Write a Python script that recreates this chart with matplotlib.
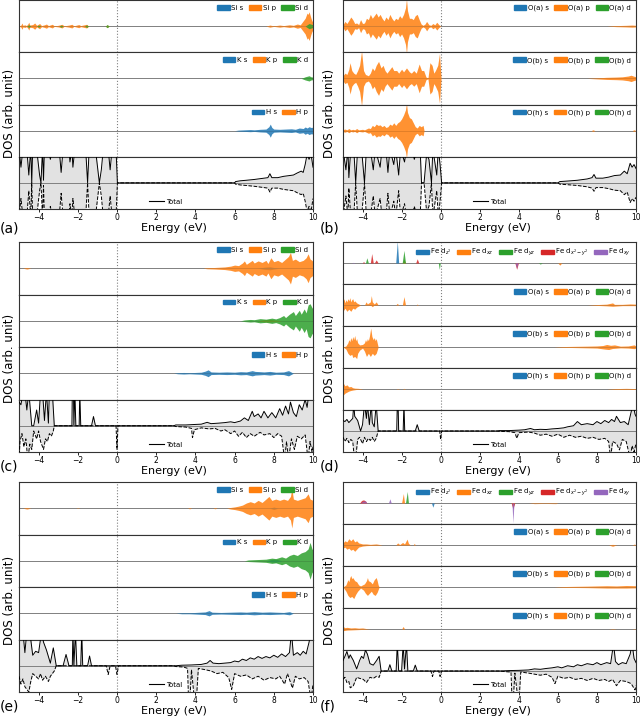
import numpy as np
import matplotlib.pyplot as plt
from matplotlib.patches import Patch
from matplotlib.lines import Line2D

plt.rcParams['font.family'] = ['DejaVu Sans']

xlim = (-5.0, 10.0)
xticks = [-4, -2, 0, 2, 4, 6, 8, 10]
colors = ['tab:blue', 'tab:orange', 'tab:green', 'tab:red', 'tab:purple']

si_labels = ['Si s', 'Si p', 'Si d']
k_labels = ['K s', 'K p', 'K d']
h_labels = ['H s', 'H p']
oa_labels = ['O(a) s', 'O(a) p', 'O(a) d']
ob_labels = ['O(b) s', 'O(b) p', 'O(b) d']
oh_labels = ['O(h) s', 'O(h) p', 'O(h) d']
fe_labels = [r'Fe d$_{z^2}$', r'Fe d$_{xz}$', r'Fe d$_{yz}$', r'Fe d$_{x^2-y^2}$', r'Fe d$_{xy}$']
tags = ['(a)', '(b)', '(c)', '(d)', '(e)', '(f)']

# ---- panel (a): (energy, DOS), DOS in units of half the subplot height
a_si_p = [(-5, 0), (-4.9, .04), (-4.85, .12), (-4.8, .03), (-4.7, .05), (-4.62, .02), (-4.55, .08), (-4.5, .15),
          (-4.45, .04), (-4.3, .06), (-4.2, .12), (-4.1, .03), (-3.95, .1), (-3.85, .02), (-3.7, .05), (-3.6, .08),
          (-3.5, .02), (-3.3, .07), (-3.2, .01), (-3.0, .03), (-2.8, .07), (-2.7, .01), (-2.45, .04), (-2.3, .07),
          (-2.2, .01), (-1.95, .06), (-1.85, .02), (-1.55, .07), (-1.45, 0), (-0.6, 0), (-0.5, .05), (-0.4, 0),
          (7.6, 0), (7.8, .04), (8.0, .01), (8.3, .04), (8.5, .02), (8.8, .05), (9.0, .03), (9.2, .08), (9.35, .05),
          (9.5, .2), (9.6, .3), (9.7, .5), (9.75, .45), (9.8, .55), (9.9, .3), (9.95, .2), (10, .15)]
a_si_d = [(-4.6, 0), (-4.5, .05), (-4.4, 0), (-4.1, 0), (-4.0, .04), (-3.9, 0), (-2.95, 0), (-2.85, .04),
          (-2.75, 0), (-1.65, 0), (-1.55, .05), (-1.45, 0), (-0.6, 0), (-0.5, .06), (-0.4, 0), (9.6, 0),
          (9.8, .1), (10, .05)]
a_k_d = [(9.4, 0), (9.6, .06), (9.7, .08), (9.8, .1), (9.9, .06), (10, .05)]
a_h_s = [(6.0, 0), (6.2, .02), (6.5, .03), (6.8, .04), (7.0, .03), (7.3, .05), (7.6, .06), (7.75, .15),
         (7.82, .25), (7.9, .12), (8.0, .06), (8.3, .05), (8.6, .06), (8.9, .07), (9.1, .05), (9.3, .1),
         (9.5, .08), (9.6, .14), (9.7, .1), (9.8, .15), (9.9, .12), (10, .13)]
a_total = [(-5, 1.3), (-4.9, .6), (-4.8, 1.3), (-4.6, 1.3), (-4.5, .3), (-4.4, 1.3), (-4.35, 0), (-4.3, 1.3),
           (-4.1, 1.3), (-3.95, .3), (-3.88, 0), (-3.8, 1.3), (-3.75, .1), (-3.7, 1.3), (-3.5, 1.3), (-3.4, .9),
           (-3.3, 1.3), (-2.95, 1.3), (-2.85, .4), (-2.75, 1.3), (-2.45, 1.3), (-2.4, .8), (-2.3, 1.3),
           (-2.25, .6), (-2.15, 1.3), (-1.6, 1.3), (-1.5, 0), (-1.42, 1.3), (-1.1, 1.3), (-0.9, 0), (-0.8, .5),
           (-0.7, 1.3), (-0.45, 1.3), (-0.35, .5), (-0.25, 1.3), (-0.05, 1.3), (0.02, 0), (6.0, 0), (6.05, .05),
           (6.3, .08), (6.6, .1), (7.0, .13), (7.4, .17), (7.7, .2), (7.8, .35), (7.9, .2), (8.2, .2), (8.5, .25),
           (8.8, .28), (9.0, .3), (9.2, .38), (9.4, .45), (9.5, .4), (9.6, .7), (9.7, 1.1), (9.8, .9),
           (9.9, 1.1), (10, .6)]

# ---- panel (b)
b_oa_p = [(-5.0, .05), (-4.9, .18), (-4.8, .1), (-4.7, .22), (-4.6, .35), (-4.5, .25), (-4.4, .1), (-4.3, .12),
          (-4.2, .06), (-4.1, .25), (-4.0, .1), (-3.9, .12), (-3.8, .3), (-3.7, .25), (-3.6, .45), (-3.5, .3),
          (-3.4, .4), (-3.3, .5), (-3.2, .35), (-3.1, .45), (-3.0, .3), (-2.9, .2), (-2.8, .35), (-2.7, .25),
          (-2.6, .45), (-2.5, .3), (-2.4, .2), (-2.3, .3), (-2.2, .25), (-2.1, .4), (-2.0, .3), (-1.9, .45),
          (-1.8, .7), (-1.75, 1.05), (-1.7, .6), (-1.6, .3), (-1.5, .3), (-1.4, .25), (-1.3, .4), (-1.2, .45),
          (-1.1, .25), (-1.0, .08), (-0.9, .03), (-0.8, .08), (-0.72, .18), (-0.6, .05), (-0.5, .03), (-0.4, .1),
          (-0.3, .05), (-0.2, .15), (-0.1, .06), (0.0, 0), (8.5, 0), (9.0, .02), (9.5, .03), (9.8, .04), (10, .03)]
b_ob_p = [(-5.0, .1), (-4.9, .2), (-4.8, .15), (-4.7, .35), (-4.64, .6), (-4.55, .3), (-4.45, .2), (-4.35, .15),
          (-4.25, .3), (-4.15, .5), (-4.05, 1.05), (-3.95, .3), (-3.85, .15), (-3.7, .1), (-3.6, .2), (-3.5, .4),
          (-3.4, .3), (-3.3, .5), (-3.18, .65), (-3.05, .4), (-2.95, .5), (-2.85, .3), (-2.75, .2), (-2.6, .35),
          (-2.5, .45), (-2.4, .3), (-2.25, .3), (-2.15, .2), (-2.0, .35), (-1.9, .25), (-1.75, .4), (-1.6, .25),
          (-1.5, .2), (-1.38, .3), (-1.25, .2), (-1.1, .55), (-0.98, .3), (-0.87, .3), (-0.75, .05), (-0.65, .02),
          (-0.55, .6), (-0.44, .5), (-0.35, .2), (-0.27, .3), (-0.15, .5), (-0.06, .95), (0.02, 0), (7.5, 0),
          (8, .02), (8.5, .04), (9, .05), (9.3, .06), (9.6, .09), (9.75, .12), (9.9, .08), (10, .06)]
b_oh_p = [(-5.0, .04), (-4.9, .06), (-4.8, .03), (-4.7, .08), (-4.6, .03), (-4.5, .05), (-4.4, .03), (-4.3, .08),
          (-4.2, .03), (-4.0, .05), (-3.9, .03), (-3.7, .1), (-3.6, .08), (-3.5, .2), (-3.4, .15), (-3.3, .25),
          (-3.2, .2), (-3.1, .22), (-3.0, .15), (-2.9, .2), (-2.8, .12), (-2.7, .15), (-2.6, .25), (-2.5, .2),
          (-2.4, .3), (-2.3, .2), (-2.2, .3), (-2.1, .35), (-2.0, .45), (-1.9, .6), (-1.8, .8), (-1.75, 1.05),
          (-1.7, .7), (-1.6, .5), (-1.5, .45), (-1.4, .3), (-1.3, .15), (-1.2, .1), (-1.1, .2), (-1.0, .15),
          (-0.9, .2), (-0.85, 0), (7.7, 0), (7.8, .03), (7.9, 0), (9.8, 0), (9.9, .03), (10, 0)]
b_total = [(-5, 1.3), (-4.85, .5), (-4.75, 1.3), (-4.7, .2), (-4.6, 1.3), (-4.45, 1.3), (-4.35, 0), (-4.25, 1.3),
           (-4.05, 1.3), (-3.9, 0), (-3.8, 1.3), (-3.6, 1.3), (-3.45, .5), (-3.35, 1.3), (-3.1, .6), (-3.0, 1.3),
           (-2.8, 1.3), (-2.7, .4), (-2.6, 1.3), (-2.4, .7), (-2.3, 1.3), (-2.15, .3), (-2.05, 1.3), (-1.85, .8),
           (-1.75, 1.3), (-1.45, 1.3), (-1.35, .9), (-1.2, 1.3), (-1.05, 1.3), (-0.98, 0), (-0.85, 0),
           (-0.72, 1.1), (-0.6, .9), (-0.47, .0), (-0.4, 1.3), (-0.2, .3), (-0.12, 1.3), (-0.03, .7), (0.05, 0),
           (6.0, 0), (6.1, .05), (6.5, .07), (7, .1), (7.5, .15), (7.75, .2), (7.85, .32), (7.95, .18), (8.3, .18),
           (8.6, .22), (8.9, .28), (9.2, .3), (9.4, .45), (9.55, .35), (9.7, .75), (9.8, .6), (9.9, .7), (10, .55)]

# ---- panel (c)
c_si_p = [(-4.8, 0), (-4.6, .03), (-4.4, 0), (4.4, 0), (4.6, .02), (5, .03), (5.5, .05), (5.8, .08), (6.0, .12),
          (6.2, .1), (6.4, .2), (6.5, .28), (6.6, .15), (6.8, .25), (6.9, .3), (7.0, .2), (7.2, .28), (7.4, .22),
          (7.6, .3), (7.7, .18), (7.85, .4), (8.0, .25), (8.2, .3), (8.4, .22), (8.6, .35), (8.75, .45),
          (8.85, .6), (8.95, .3), (9.1, .35), (9.3, .25), (9.5, .3), (9.65, .4), (9.75, .55), (9.85, .35),
          (9.95, .3), (10, .25)]
c_si_s = [(7.2, 0), (7.5, .04), (7.8, .06), (8.0, .03), (8.3, 0)]
c_k_p = [(7.2, 0), (7.5, .04), (7.8, .05), (8.1, .03), (8.4, 0)]
c_k_d = [(6.3, 0), (6.5, .03), (6.8, .05), (7.0, .04), (7.3, .08), (7.6, .06), (7.9, .1), (8.1, .07), (8.3, .12),
         (8.5, .2), (8.6, .12), (8.8, .25), (9.0, .35), (9.1, .2), (9.3, .4), (9.4, .25), (9.55, .45), (9.65, .3),
         (9.75, .6), (9.85, .65), (9.95, .5), (10, .45)]
c_h_s = [(2.9, 0), (3.1, .02), (3.4, .03), (3.7, .02), (4.0, .03), (4.3, .04), (4.5, .08), (4.65, .13),
         (4.8, .05), (5.2, .04), (5.6, .05), (6.0, .04), (6.3, .06), (6.6, .05), (6.9, .1), (7.05, .07),
         (7.3, .06), (7.5, .05), (7.8, .07), (8.1, .04), (8.5, .05), (8.75, .1), (8.85, .06), (9.0, 0)]
c_total_up = [(-5, .9), (-4.9, .8), (-4.8, 1.3), (-4.7, 1.3), (-4.6, .6), (-4.5, 1.3), (-4.35, 0), (-4.25, 0),
              (-4.1, .6), (-4.0, .1), (-3.9, 1.3), (-3.8, 1.3), (-3.7, .2), (-3.6, 1.3), (-3.5, .1), (-3.45, 1.3),
              (-3.3, 1.3), (-3.2, 0), (-2.3, 0), (-2.28, 1.3), (-2.22, 1.3), (-2.2, 0), (-2.15, 1.3), (-2.1, 0),
              (-1.93, 0), (-1.9, 1.3), (-1.85, 0), (-1.3, 0), (-1.2, .35), (-1.1, 0), (2.9, 0), (3.0, .03),
              (3.5, .03), (4.0, .05), (4.3, .06), (4.6, .13), (4.8, .08), (5.2, .1), (5.5, .12), (5.8, .15),
              (6.0, .12), (6.3, .18), (6.5, .3), (6.7, .2), (6.9, .55), (7.0, .35), (7.2, .45), (7.35, .3),
              (7.5, .55), (7.7, .3), (7.9, .5), (8.1, .3), (8.3, .65), (8.45, .4), (8.6, .75), (8.75, .45),
              (8.85, .9), (9.0, .5), (9.15, .35), (9.3, .8), (9.45, .6), (9.6, 1.0), (9.7, .7), (9.8, 1.3),
              (9.9, 1.3), (10, 1.1)]
c_total_dn = [(-5, -1.3), (-4.95, -.6), (-4.85, -.3), (-4.75, -.8), (-4.65, -.5), (-4.55, -1.3), (-4.45, -.7),
              (-4.35, -.9), (-4.25, -.2), (-4.1, -.5), (-4.0, -.2), (-3.9, -.6), (-3.75, -.9), (-3.65, -.5),
              (-3.55, -.6), (-3.45, -.3), (-3.35, -.4), (-3.25, -.2), (-3.2, 0), (-0.05, 0), (0, -.9), (0.05, 0),
              (2.9, 0), (3.0, -.03), (3.5, -.05), (3.8, -.1), (3.85, -.45), (3.95, -.15), (4.3, -.08),
              (4.7, -.12), (5.0, -.1), (5.3, -.2), (5.5, -.15), (5.8, -.3), (6.0, -.2), (6.2, -.4), (6.4, -.25),
              (6.6, -.45), (6.8, -.3), (7.0, -.4), (7.3, -.25), (7.5, -.35), (7.8, -.3), (8.0, -.45), (8.2, -.3),
              (8.4, -.4), (8.55, -1.3), (8.65, -.6), (8.75, -1.3), (8.9, -.5), (9.05, -.9), (9.2, -.4),
              (9.4, -.5), (9.6, -.35), (9.75, -1.3), (9.85, -.6), (9.95, -1.0), (10, -.8)]

# ---- panel (d)
d_fe_z2_up = [(-2.3, 0), (-2.22, 1.05), (-2.15, 0)]
d_fe_xz_up = [(-1.95, 0), (-1.88, .2), (-1.8, 0)]
d_fe_xz_dn = [(6.0, 0), (6.1, -.1), (6.2, 0)]
d_fe_yz_up = [(-3.85, 0), (-3.78, .25), (-3.7, 0), (-1.97, 0), (-1.88, .6), (-1.8, 0)]
d_fe_yz_dn = [(-0.12, 0), (-0.07, -.3), (-0.02, 0), (5.0, 0), (5.1, -.05), (5.2, 0)]
d_fe_x2y2_up = [(-4.0, 0), (-3.95, .08), (-3.9, 0), (-3.6, 0), (-3.53, .45), (-3.45, 0), (-3.4, 0), (-3.3, .15),
                (-3.2, 0), (-1.28, 0), (-1.2, .2), (-1.12, 0)]
d_fe_x2y2_dn = [(3.8, 0), (3.89, -.3), (3.98, 0)]
d_fe_xy_up = [(-4.55, 0), (-4.47, .03), (-4.4, 0)]
d_fe_xy_dn = [(3.82, 0), (3.89, -.25), (3.95, 0)]
d_oa_up = [(-5, .15), (-4.95, .3), (-4.9, .1), (-4.85, .25), (-4.8, .15), (-4.75, .3), (-4.7, .2), (-4.65, .35),
           (-4.6, .15), (-4.55, .25), (-4.5, .3), (-4.45, .15), (-4.4, .2), (-4.3, .1), (-4.2, .05), (-4.1, 0),
           (-3.9, 0), (-3.82, .15), (-3.75, .05), (-3.6, .15), (-3.55, .45), (-3.5, .15), (-3.4, .05),
           (-3.3, .15), (-3.2, 0), (-2.3, 0), (-2.22, .08), (-2.15, 0), (-1.96, 0), (-1.88, .4), (-1.8, 0),
           (-1.25, 0), (-1.2, .05), (-1.15, 0), (7.5, 0), (8, .02), (8.5, .04), (8.8, .1), (8.9, .03), (9.3, .03),
           (9.7, .05), (10, .04)]
d_oa_dn = [(-5, -.3), (-4.9, -.15), (-4.8, -.3), (-4.7, -.2), (-4.6, -.3), (-4.5, -.15), (-4.4, -.2), (-4.3, -.1),
           (-4.2, -.05), (-4.1, 0), (-3.6, 0), (-3.5, -.08), (-3.4, 0), (7.5, 0), (8, -.02), (8.5, -.04),
           (8.8, -.06), (9.3, -.03), (10, -.03)]
d_ob_up = [(-5, 0), (-4.85, .05), (-4.75, .2), (-4.7, .35), (-4.65, .25), (-4.6, .45), (-4.55, .3), (-4.5, .5),
           (-4.45, .35), (-4.4, .55), (-4.35, .3), (-4.3, .4), (-4.25, .2), (-4.15, .1), (-4.0, .12), (-3.9, .2),
           (-3.85, .35), (-3.8, .25), (-3.75, .4), (-3.7, .3), (-3.65, .5), (-3.58, .9), (-3.52, .5), (-3.45, .35),
           (-3.4, .45), (-3.35, .3), (-3.3, .4), (-3.25, .2), (-3.2, 0), (5.8, 0), (6.2, .02), (6.8, .03),
           (7.5, .04), (8.0, .05), (8.3, .07), (8.5, .12), (8.7, .08), (8.9, .1), (9.2, .04), (9.6, .05),
           (9.9, .1), (10, .05)]
d_ob_dn = [(-5, 0), (-4.85, -.1), (-4.75, -.3), (-4.65, -.4), (-4.55, -.35), (-4.5, -.5), (-4.4, -.45),
           (-4.3, -.55), (-4.25, -.3), (-4.15, -.15), (-4.0, -.05), (-3.9, -.2), (-3.8, -.45), (-3.7, -.3),
           (-3.6, -.45), (-3.5, -.3), (-3.4, -.4), (-3.3, -.3), (-3.2, 0), (5.8, 0), (6.5, -.02), (7.5, -.04),
           (8.0, -.05), (8.4, -.1), (8.6, -.12), (8.8, -.07), (9.2, -.04), (9.6, -.05), (9.9, -.08), (10, -.05)]
d_oh_up = [(-5, .3), (-4.9, .15), (-4.8, .2), (-4.7, .1), (-4.6, .12), (-4.5, .06), (-4.4, .04), (-4.2, .03),
           (-4.0, 0), (-2.3, 0), (-2.2, .02), (-2.1, 0), (-1.95, 0), (-1.88, .03), (-1.8, 0), (8.5, 0), (9, .02),
           (9.5, .03), (10, .02)]
d_oh_dn = [(-5, -.3), (-4.9, -.2), (-4.8, -.15), (-4.7, -.1), (-4.6, -.07), (-4.5, -.05), (-4.3, -.02), (-4.0, 0),
           (8.5, 0), (9, -.02), (9.5, -.02), (10, -.02)]
d_total_up = [(-5, .5), (-4.9, .45), (-4.8, .55), (-4.7, .4), (-4.6, .5), (-4.5, .6), (-4.45, 1.3), (-4.4, .7),
              (-4.25, .5), (-4.1, 0), (-4.0, .3), (-3.9, 1.3), (-3.8, .6), (-3.75, 1.3), (-3.65, .3), (-3.55, 1.3),
              (-3.5, .4), (-3.4, .2), (-3.3, 1.3), (-3.2, 0), (-2.25, 0), (-2.22, 1.3), (-2.18, 1.3), (-2.15, 0),
              (-1.92, 0), (-1.88, 1.3), (-1.84, 0), (-1.3, 0), (-1.2, .3), (-1.1, 0), (2.9, 0), (3.0, .02),
              (3.5, .02), (4.0, .04), (4.3, .06), (4.6, .12), (4.8, .06), (5.1, .08), (5.4, .07), (5.7, .1),
              (6.0, .12), (6.3, .15), (6.5, .2), (6.8, .25), (7.0, .45), (7.2, .3), (7.5, .35), (7.8, .3), (8.0, .45),
              (8.2, .35), (8.4, .5), (8.6, .4), (8.75, .55), (8.9, .45), (9.0, .7), (9.2, .4), (9.4, .45), (9.6, .3),
              (9.75, .9), (9.85, 1.3), (9.95, .8), (10, .7)]
d_total_dn = [(-5, -.3), (-4.9, -.5), (-4.8, -.35), (-4.7, -.55), (-4.6, -.4), (-4.5, -.5), (-4.42, -1.3),
              (-4.35, -1.3), (-4.25, -.4), (-4.15, -.3), (-4.0, -.6), (-3.9, -.3), (-3.8, -.5), (-3.7, -.35),
              (-3.6, -.45), (-3.5, -.3), (-3.4, -.5), (-3.3, -.35), (-3.2, 0), (-0.05, 0), (0, -.4), (0.05, 0),
              (2.9, 0), (3.0, -.02), (3.5, -.03), (3.8, -.08), (3.9, -.35), (4.0, -.08), (4.5, -.05), (4.8, -.1),
              (5.1, -.2), (5.4, -.15), (5.7, -.25), (6.0, -.15), (6.3, -.3), (6.6, -.2), (6.9, -.3), (7.2, -.25),
              (7.5, -.35), (7.8, -.3), (8.1, -.4), (8.4, -.35), (8.6, -.5), (8.7, -1.3), (8.8, -.5), (9.0, -.6),
              (9.15, -.9), (9.3, -.4), (9.5, -.5), (9.7, -1.3), (9.8, -.7), (9.9, -1.0), (10, -.6)]

# ---- panel (e)
e_si_p = [(-4.8, 0), (-4.6, .03), (-4.4, 0), (-2.1, 0), (-2.0, .01), (-1.9, 0), (3.6, 0), (3.7, .02), (3.8, 0),
          (4.9, 0), (5.0, .02), (5.1, 0), (5.6, 0), (5.8, .03), (6.0, .05), (6.2, .08), (6.4, .12), (6.6, .2),
          (6.8, .25), (7.0, .2), (7.2, .3), (7.4, .22), (7.6, .35), (7.75, .45), (7.9, .3), (8.1, .35), (8.3, .3),
          (8.5, .35), (8.7, .3), (8.85, .45), (8.92, .75), (9.0, .35), (9.2, .3), (9.4, .35), (9.6, .4),
          (9.75, .55), (9.85, .35), (10, .3)]
e_si_s = [(7.8, 0), (8.0, .05), (8.2, 0)]
e_k_s = [(7.6, 0), (7.9, .05), (8.1, .06), (8.4, 0)]
e_k_d = [(6.5, 0), (6.7, .03), (7.0, .04), (7.3, .05), (7.6, .06), (7.9, .1), (8.1, .08), (8.4, .15), (8.6, .1),
         (8.8, .2), (9.0, .25), (9.2, .2), (9.4, .3), (9.6, .35), (9.75, .45), (9.85, .7), (9.95, .45), (10, .4)]
e_h_s = [(3.0, 0), (3.3, .02), (3.7, .02), (4.0, .03), (4.5, .05), (4.7, .1), (4.85, .04), (5.3, .03), (5.8, .04),
         (6.3, .05), (6.6, .04), (7.0, .06), (7.4, .04), (7.8, .05), (8.1, .04), (8.5, .03), (8.8, .06),
         (8.9, .03), (9.0, 0)]
e_total_up = [(-5, 1.3), (-4.8, 1.3), (-4.7, .5), (-4.6, 1.3), (-4.45, 1.3), (-4.3, .4), (-4.15, .55), (-4.0, .5),
              (-3.85, 1.3), (-3.75, .9), (-3.6, .6), (-3.4, .1), (-3.25, .68), (-3.1, 0), (-2.75, 0), (-2.6, .43),
              (-2.45, 0), (-2.28, 0), (-2.25, 1.3), (-2.2, 0), (-2.12, 1.3), (-2.05, 0), (-1.85, 0), (-1.8, 1.3),
              (-1.75, 0), (-1.5, 0), (-1.4, .37), (-1.3, 0), (3.0, 0), (3.3, .02), (3.8, .03), (4.3, .05),
              (4.6, .1), (4.75, .2), (4.9, .1), (5.2, .08), (5.5, .1), (5.8, .12), (6.0, .18), (6.2, .15),
              (6.4, .25), (6.6, .2), (6.8, .3), (7.0, .25), (7.2, .35), (7.4, .28), (7.6, .35), (7.8, .3),
              (8.0, .4), (8.2, .32), (8.4, .45), (8.6, .35), (8.8, .5), (8.9, 1.3), (9.0, .4), (9.2, .5),
              (9.35, .4), (9.5, .55), (9.65, .45), (9.8, .9), (9.9, 1.3), (10, 1.0)]
e_total_dn = [(-5, -.4), (-4.9, -.7), (-4.8, -.5), (-4.7, -.8), (-4.6, -.9), (-4.5, -1.0), (-4.4, -.6),
              (-4.3, -.3), (-4.15, -.4), (-4.0, -.5), (-3.9, -.3), (-3.8, -.55), (-3.65, -.4), (-3.5, -.6),
              (-3.4, -.4), (-3.3, -.3), (-3.2, -.2), (-3.1, 0), (-0.55, 0), (-0.45, -.33), (-0.35, 0), (-0.08, 0),
              (0.0, -.33), (0.08, 0), (2.9, 0), (3.0, -.03), (3.4, -.05), (3.6, -.1), (3.65, -1.3), (3.72, -1.3),
              (3.8, -.15), (3.95, -1.3), (4.05, -1.3), (4.15, -.1), (4.5, -.15), (4.8, -.2), (5.1, -.3),
              (5.4, -.25), (5.7, -.45), (5.85, -.9), (6.0, -.3), (6.3, -.4), (6.6, -.35), (6.9, -.5), (7.2, -.4),
              (7.5, -.55), (7.8, -.45), (8.1, -.5), (8.3, -.4), (8.55, -.7), (8.7, -.3), (8.95, -.85), (9.1, -.4),
              (9.3, -.5), (9.55, -.45), (9.75, -.6), (9.9, -1.3), (10, -.7)]

# ---- panel (f)
f_fe_z2_dn = [(-0.47, 0), (-0.4, -.2), (-0.33, 0)]
f_fe_xz_up = [(-4.1, 0), (-3.95, .1), (-3.8, 0), (-2.0, 0), (-1.91, .45), (-1.85, 0)]
f_fe_xz_dn = [(3.6, 0), (3.7, -.2), (3.8, 0), (4.5, 0), (4.8, -.03), (5.3, -.02), (5.9, -.03), (6.0, 0)]
f_fe_yz_up = [(-1.8, 0), (-1.71, .55), (-1.65, 0)]
f_fe_x2y2_up = [(-4.15, 0), (-4.05, .12), (-3.95, .15), (-3.85, .1), (-3.78, 0)]
f_fe_x2y2_dn = [(3.62, 0), (3.7, -.3), (3.78, 0)]
f_fe_xy_up = [(-4.1, 0), (-4.0, .08), (-3.85, .1), (-3.78, 0), (-2.67, 0), (-2.6, .2), (-2.53, 0)]
f_fe_xy_dn = [(3.65, 0), (3.7, -.95), (3.75, 0)]
f_oa_up = [(-5, .1), (-4.9, .2), (-4.8, .15), (-4.7, .3), (-4.6, .2), (-4.5, .3), (-4.4, .15), (-4.3, .2),
           (-4.2, .1), (-4.0, .05), (-3.8, .05), (-3.6, .03), (-3.3, .05), (-3.1, .02), (-3.0, 0), (-2.3, 0),
           (-2.2, .1), (-2.1, .02), (-1.95, .12), (-1.85, .05), (-1.72, .28), (-1.65, .08), (-1.55, 0), (-1.4, 0),
           (-1.35, .08), (-1.3, 0), (8.6, 0), (8.8, .03), (9.0, 0), (9.8, 0), (9.9, .04), (10, .02)]
f_oa_dn = [(-5, -.15), (-4.9, -.1), (-4.8, -.2), (-4.7, -.15), (-4.6, -.25), (-4.5, -.2), (-4.4, -.3), (-4.3, -.2),
           (-4.2, -.1), (-4.0, -.05), (-3.8, -.03), (-3.0, 0), (8.6, 0), (8.8, -.06), (9.0, 0)]
f_ob_up = [(-5, 0), (-4.85, .1), (-4.75, .35), (-4.7, .25), (-4.65, .45), (-4.6, .55), (-4.55, .4), (-4.5, .45),
           (-4.4, .3), (-4.3, .25), (-4.2, .1), (-4.1, .05), (-4.0, .1), (-3.9, .15), (-3.8, .3), (-3.75, .45),
           (-3.7, .3), (-3.6, .25), (-3.5, .15), (-3.4, .35), (-3.3, .45), (-3.25, .3), (-3.2, .1), (-3.15, 0),
           (5.8, 0), (6.2, .02), (6.8, .03), (7.5, .04), (8, .05), (8.5, .06), (9.0, .05), (9.5, .07), (10, .06)]
f_ob_dn = [(-5, 0), (-4.85, -.2), (-4.75, -.4), (-4.65, -.5), (-4.55, -.45), (-4.45, -.55), (-4.35, -.35),
           (-4.25, -.2), (-4.1, -.05), (-3.95, -.15), (-3.85, -.3), (-3.75, -.4), (-3.65, -.3), (-3.55, -.2),
           (-3.45, -.35), (-3.35, -.4), (-3.25, -.25), (-3.15, 0), (5.8, 0), (6.5, -.02), (7.5, -.03),
           (8.5, -.05), (9.5, -.05), (10, -.04)]
f_oh_up = [(-5, .12), (-4.9, .06), (-4.8, .08), (-4.6, .05), (-4.4, .06), (-4.2, .04), (-4.0, .05), (-3.8, .02),
           (-3.6, 0), (-2.0, 0), (-1.92, .12), (-1.85, 0), (8.6, 0), (8.8, .02), (9.0, 0), (9.8, 0), (9.9, .02),
           (10, 0)]
f_oh_dn = [(-5, -.08), (-4.8, -.05), (-4.5, -.04), (-4.0, -.02), (-3.8, 0)]
f_total_up = [(-5, .5), (-4.9, .7), (-4.8, .93), (-4.7, .6), (-4.63, .77), (-4.47, .5), (-4.3, .1), (-4.15, .5),
              (-4.05, .7), (-3.95, .6), (-3.85, 1.0), (-3.75, .8), (-3.62, .35), (-3.45, .28), (-3.28, .5),
              (-3.15, .7), (-3.05, 0), (-2.7, 0), (-2.6, .3), (-2.5, 0), (-2.28, 0), (-2.22, 1.3), (-2.15, 0),
              (-2.0, 0), (-1.92, 1.3), (-1.85, .1), (-1.75, 1.3), (-1.68, 0), (-1.4, 0), (-1.3, .28), (-1.2, 0),
              (3.0, 0), (3.5, .02), (4.0, .03), (4.5, .05), (4.8, .1), (5.1, .08), (5.4, .12), (5.7, .15),
              (6.0, .2), (6.2, .15), (6.5, .25), (6.8, .2), (7.0, .3), (7.2, .25), (7.5, .35), (7.8, .3), (8.0, .4),
              (8.2, .3), (8.5, .4), (8.7, .35), (8.85, 1.3), (8.95, .45), (9.1, .3), (9.3, .4), (9.5, .35),
              (9.7, .8), (9.8, 1.3), (9.9, .6), (10, .4)]
f_total_dn = [(-5, -.4), (-4.9, -.3), (-4.8, -.55), (-4.7, -.5), (-4.63, -.8), (-4.47, -.7), (-4.3, -.3),
              (-4.15, -.35), (-3.96, -.4), (-3.8, -.55), (-3.62, -.3), (-3.45, -.35), (-3.28, -.25), (-3.15, -.3),
              (-3.05, 0), (-0.5, 0), (-0.42, -.26), (-0.34, 0), (-0.1, 0), (-0.03, -.26), (0.05, 0), (3.0, 0),
              (3.3, -.03), (3.6, -.05), (3.65, -1.3), (3.72, -1.3), (3.8, -.1), (3.95, -1.3), (4.02, -1.3),
              (4.1, -.05), (4.5, -.1), (4.8, -.15), (5.1, -.2), (5.4, -.15), (5.7, -.3), (5.85, -.6), (6.0, -.25),
              (6.3, -.35), (6.6, -.3), (6.9, -.4), (7.2, -.35), (7.5, -.45), (7.8, -.35), (8.1, -.45), (8.4, -.4),
              (8.6, -.5), (8.8, -.4), (9.0, -.7), (9.2, -.45), (9.5, -.5), (9.75, -.6), (9.95, -.9), (10, -.7)]

# subplot stacks; each series is (colour index, spin-up points, spin-down points or None for mirrored)
panels = [
    [(si_labels, [(1, a_si_p, None), (2, a_si_d, None)]),
     (k_labels, [(2, a_k_d, None)]),
     (h_labels, [(0, a_h_s, None)]),
     (a_total, None)],
    [(oa_labels, [(1, b_oa_p, None)]),
     (ob_labels, [(1, b_ob_p, None)]),
     (oh_labels, [(1, b_oh_p, None)]),
     (b_total, None)],
    [(si_labels, [(0, c_si_s, None), (1, c_si_p, None)]),
     (k_labels, [(1, c_k_p, None), (2, c_k_d, None)]),
     (h_labels, [(0, c_h_s, None)]),
     (c_total_up, c_total_dn)],
    [(fe_labels, [(0, d_fe_z2_up, []), (1, d_fe_xz_up, d_fe_xz_dn), (2, d_fe_yz_up, d_fe_yz_dn),
                  (3, d_fe_x2y2_up, d_fe_x2y2_dn), (4, d_fe_xy_up, d_fe_xy_dn)]),
     (oa_labels, [(1, d_oa_up, d_oa_dn)]),
     (ob_labels, [(1, d_ob_up, d_ob_dn)]),
     (oh_labels, [(1, d_oh_up, d_oh_dn)]),
     (d_total_up, d_total_dn)],
    [(si_labels, [(0, e_si_s, None), (1, e_si_p, None)]),
     (k_labels, [(0, e_k_s, None), (2, e_k_d, None)]),
     (h_labels, [(0, e_h_s, None)]),
     (e_total_up, e_total_dn)],
    [(fe_labels, [(0, [], f_fe_z2_dn), (1, f_fe_xz_up, f_fe_xz_dn), (2, f_fe_yz_up, []),
                  (3, f_fe_x2y2_up, f_fe_x2y2_dn), (4, f_fe_xy_up, f_fe_xy_dn)]),
     (oa_labels, [(1, f_oa_up, f_oa_dn)]),
     (ob_labels, [(1, f_ob_up, f_ob_dn)]),
     (oh_labels, [(1, f_oh_up, f_oh_dn)]),
     (f_total_up, f_total_dn)],
]


def xy(pts):
    a = np.array(pts, dtype=float).reshape(-1, 2)
    return a[:, 0], a[:, 1]


W, H = 640, 721
fig = plt.figure(figsize=(W / 100, H / 100), dpi=100)
cols = [(19, 313), (343, 636)]
rows = [(0, 209), (242, 452), (482, 692)]
tag_y = [228, 466, 707]
ylab_y = [113, 358, 600]

for p, stack in enumerate(panels):
    r, c = divmod(p, 2)
    x0, x1 = cols[c]
    y0, y1 = rows[r]
    n = len(stack)
    h = (y1 - y0) / n
    for i, entry in enumerate(stack):
        top = y0 + i * h
        ax = fig.add_axes([x0 / W, 1 - (top + h) / H, (x1 - x0) / W, h / H])
        ax.set_xlim(xlim)
        ax.set_ylim(-1, 1)
        ax.axhline(0, color='gray', lw=0.7, zorder=1)
        ax.axvline(0, color='gray', ls=':', lw=0.8, zorder=1)
        for s in ax.spines.values():
            s.set_linewidth(0.8)
            s.set_color('#333333')
        ax.set_yticks([])
        if i < n - 1:
            labels, series = entry
            for ci, up, dn in series:
                if len(up):
                    e, v = xy(up)
                    ax.fill_between(e, 0, v, color=colors[ci], alpha=0.85, lw=0, zorder=2)
                    if dn is None:
                        ax.fill_between(e, 0, -v, color=colors[ci], alpha=0.85, lw=0, zorder=2)
                if dn:
                    e, v = xy(dn)
                    ax.fill_between(e, 0, v, color=colors[ci], alpha=0.85, lw=0, zorder=2)
            handles = [Patch(color=colors[k], label=l) for k, l in enumerate(labels)]
            ax.legend(handles=handles, loc='upper right', ncol=len(labels), fontsize=5, frameon=False,
                      handlelength=1.8, handleheight=0.6, handletextpad=0.2, columnspacing=0.8,
                      borderaxespad=0.3)
            ax.set_xticks([])
        else:
            up, dn = entry
            e, v = xy(up)
            if dn is None:
                ed, vd = e, -v
            else:
                ed, vd = xy(dn)
            ax.fill_between(e, 0, v, color='#e2e2e2', lw=0, zorder=0)
            ax.fill_between(ed, 0, vd, color='#e2e2e2', lw=0, zorder=0)
            ax.plot(e, v, color='black', lw=0.7, zorder=3)
            ax.plot(ed, vd, color='black', ls='--', lw=0.7, zorder=3)
            ax.legend(handles=[Line2D([], [], color='black', lw=0.8, label='Total')], loc='lower center',
                      fontsize=5, frameon=False, handlelength=2.2, handletextpad=0.3, borderaxespad=0.2)
            ax.set_xticks(xticks)
            ax.tick_params(axis='x', labelsize=5.5, length=2, width=0.6, pad=1)
    # panel-level texts
    fig.text(((x0 + x1) / 2 + 8) / W, 1 - (y1 + 19) / H, 'Energy (eV)', fontsize=8, ha='center', va='center')
    fig.text((0 if c == 0 else 320) / W, 1 - tag_y[r] / H, tags[p], fontsize=10, ha='left', va='center')
    fig.text((10 if c == 0 else 330) / W, 1 - ylab_y[r] / H, 'DOS (arb. unit)', fontsize=8.5,
             rotation=90, ha='center', va='center')

fig.savefig('out.png', dpi=100)
